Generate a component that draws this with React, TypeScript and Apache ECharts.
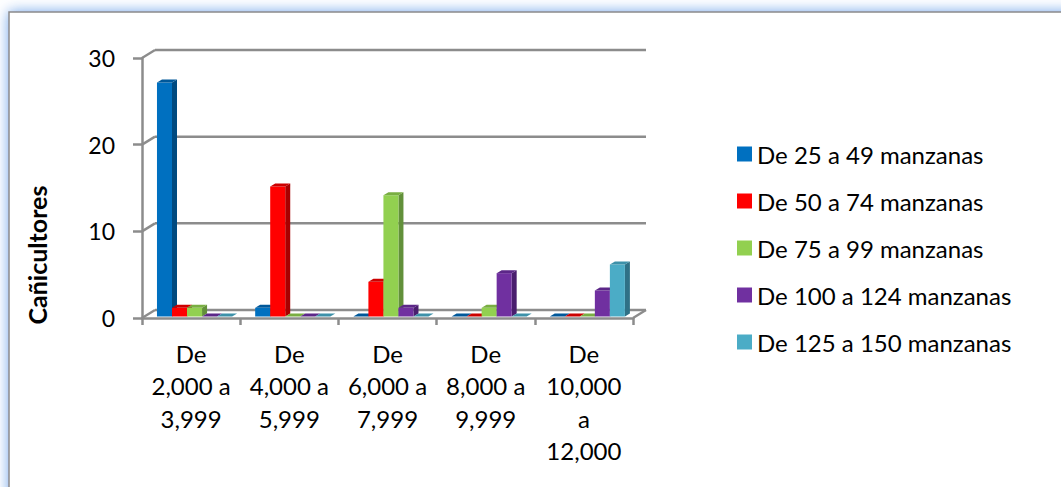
import React, { useEffect, useRef } from "react";
import * as echarts from "echarts";

const categories = [
  "De\n2,000 a\n3,999",
  "De\n4,000 a\n5,999",
  "De\n6,000 a\n7,999",
  "De\n8,000 a\n9,999",
  "De\n10,000\na\n12,000",
];
const seriesNames = [
  "De 25 a 49 manzanas",
  "De 50 a 74 manzanas",
  "De 75 a 99 manzanas",
  "De 100 a 124 manzanas",
  "De 125 a 150 manzanas",
];
const s25a49 = [27, 1, 0, 0, 0];
const s50a74 = [1, 15, 4, 0, 0];
const s75a99 = [1, 0, 14, 1, 0];
const s100a124 = [0, 0, 1, 5, 3];
const s125a150 = [0, 0, 0, 0, 6];
const seriesValues = [s25a49, s50a74, s75a99, s100a124, s125a150];
const yTicks = [0, 10, 20, 30];

const frontColors = ["#0070C0", "#FF0000", "#92D050", "#7030A0", "#4BACC6"];
const sideColors = ["#004A80", "#A80000", "#62903A", "#4A1E6E", "#2F7186"];
const topColors = ["#00589A", "#CC0000", "#79AE42", "#5C2788", "#3D91A9"];

const FONT = "Lato, 'Open Sans', sans-serif";
const LINE = "#8C8C8C";
const WALL_DX = 13;
const WALL_DY = -8;
const BAR_DX = 5;
const BAR_DY = -3;

export default function App() {
  const ref = useRef<HTMLDivElement>(null);
  useEffect(() => {
    if (!ref.current) return;
    const chart = echarts.init(ref.current, undefined, { renderer: "svg" });

    const decor = {
      type: "custom",
      name: "decor",
      z: 1,
      silent: true,
      data: yTicks.map((v) => [0, v]),
      renderItem: (params: any, api: any) => {
        const cs = params.coordSys;
        const v = api.value(1);
        const y = api.coord([0, v])[1];
        const x0 = cs.x;
        const x1 = cs.x + cs.width;
        const style = { stroke: LINE, lineWidth: 2.5, fill: null };
        const children: any[] = [
          { type: "line", shape: { x1: x0, y1: y, x2: x0 + WALL_DX, y2: y + WALL_DY }, style },
          { type: "line", shape: { x1: x0 + WALL_DX, y1: y + WALL_DY, x2: x1 + WALL_DX, y2: y + WALL_DY }, style },
        ];
        if (v === 0) {
          children.push({ type: "line", shape: { x1: x1, y1: y, x2: x1 + WALL_DX, y2: y + WALL_DY }, style });
        }
        return { type: "group", children };
      },
    };

    const barSeries = seriesValues.map((vals, k) => ({
      type: "custom",
      name: seriesNames[k],
      z: 2,
      itemStyle: { color: frontColors[k] },
      data: vals.map((v, i) => [i, v]),
      renderItem: (params: any, api: any) => {
        const cat = api.value(0);
        const val = api.value(1);
        const base = api.coord([cat, 0]);
        const top = api.coord([cat, val]);
        const band = api.size([1, 0])[0];
        const w = band * 0.153;
        const x = base[0] - 2.5 * w + k * w + band * 0.035;
        const y0 = base[1] - 1.5;
        const y1 = top[1] - 1.5;
        const children: any[] = [];
        if (y0 - y1 > 0.1) {
          children.push({
            type: "polygon",
            shape: { points: [[x + w, y1], [x + w + BAR_DX, y1 + BAR_DY], [x + w + BAR_DX, y0 + BAR_DY], [x + w, y0]] },
            style: { fill: sideColors[k] },
          });
          children.push({
            type: "rect",
            shape: { x, y: y1, width: w, height: y0 - y1 },
            style: { fill: frontColors[k] },
          });
        }
        children.push({
          type: "polygon",
          shape: { points: [[x, y1], [x + w, y1], [x + w + BAR_DX, y1 + BAR_DY], [x + BAR_DX, y1 + BAR_DY]] },
          style: { fill: topColors[k] },
        });
        return { type: "group", children };
      },
    }));

    chart.setOption({
      animation: false,
      backgroundColor: "#ffffff",
      textStyle: { fontFamily: FONT },
      graphic: [
        {
          type: "rect",
          z: -10,
          shape: { x: 9, y: 12, width: 1200, height: 600 },
          style: {
            fill: "#ffffff",
            stroke: "#8A8A8A",
            lineWidth: 1.5,
            shadowBlur: 14,
            shadowColor: "rgba(90,150,230,0.85)",
          },
        },
        {
          type: "text",
          x: 37,
          y: 255,
          rotation: Math.PI / 2,
          style: {
            text: "Cañicultores",
            fontFamily: FONT,
            fontSize: 25,
            fontWeight: "bold",
            fill: "#000",
            align: "center",
            verticalAlign: "middle",
          },
        },
      ],
      legend: {
        data: seriesNames,
        orient: "vertical",
        left: 737,
        top: 142,
        padding: 0,
        itemWidth: 15,
        itemHeight: 15,
        itemGap: 23,
        icon: "rect",
        textStyle: { fontFamily: FONT, fontSize: 24, lineHeight: 24, color: "#000" },
      },
      grid: { left: 142, right: 428, top: 58, bottom: 169 },
      xAxis: {
        type: "category",
        data: categories,
        axisLine: { show: true, lineStyle: { color: LINE, width: 2.5 } },
        axisTick: { show: true, length: 7, lineStyle: { color: LINE, width: 2.5 } },
        axisLabel: {
          fontFamily: FONT,
          fontSize: 24,
          lineHeight: 32.5,
          color: "#000",
          margin: 19,
          interval: 0,
          align: "center",
        },
        splitLine: { show: false },
      },
      yAxis: {
        type: "value",
        min: 0,
        max: 30,
        interval: 10,
        axisLine: { show: true, lineStyle: { color: LINE, width: 2.5 } },
        axisTick: { show: true, length: 9, lineStyle: { color: LINE, width: 2.5 } },
        axisLabel: { fontFamily: FONT, fontSize: 23, color: "#000", margin: 27 },
        splitLine: { show: false },
      },
      series: [decor, ...barSeries],
    });
    return () => chart.dispose();
  }, []);
  return (
    <div
      ref={ref}
      style={{ position: "fixed", left: 0, top: 0, width: 1061, height: 487, background: "#fff" }}
    />
  );
}
